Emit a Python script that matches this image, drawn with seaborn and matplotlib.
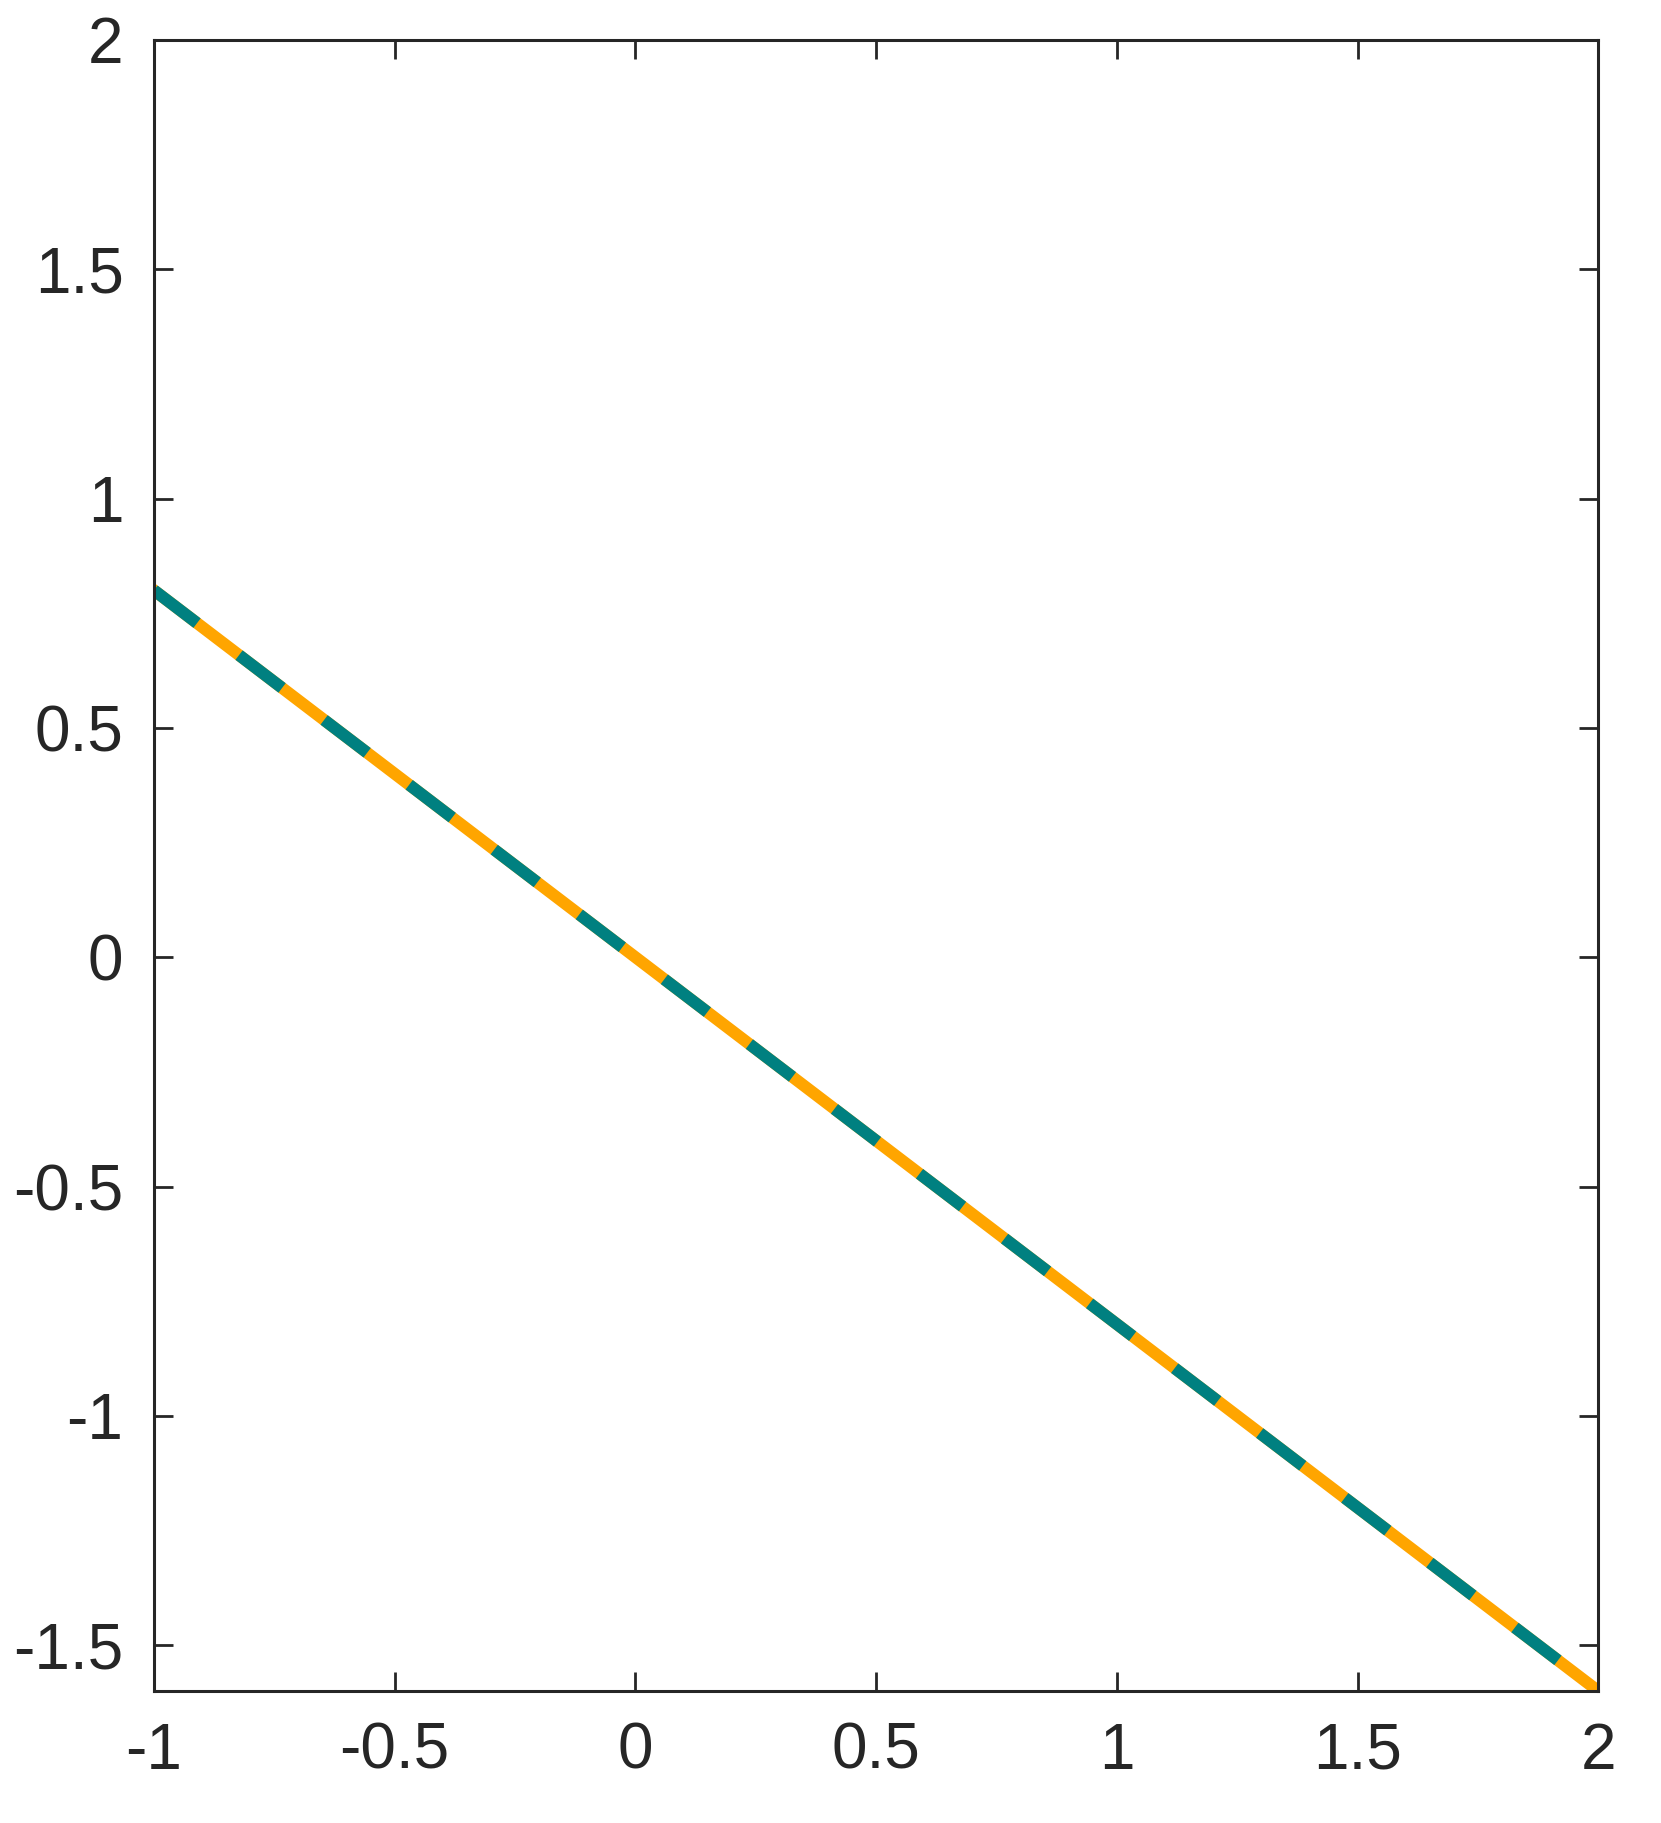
import pandas as pd
import matplotlib
matplotlib.use("Agg")
import matplotlib.pyplot as plt
import seaborn as sns

# line end points
x_vals = [-1.0, 2.0]
y_vals = [0.8, -1.6]
x_ticks = [-1, -0.5, 0, 0.5, 1, 1.5, 2]
y_ticks = [-1.5, -1, -0.5, 0, 0.5, 1, 1.5, 2]
x_labels = ['-1', '-0.5', '0', '0.5', '1', '1.5', '2']
y_labels = ['-1.5', '-1', '-0.5', '0', '0.5', '1', '1.5', '2']

df = pd.DataFrame({'x': x_vals, 'y': y_vals})

sns.set_theme(style="ticks")
plt.rcParams['font.family'] = ['Liberation Sans', 'DejaVu Sans']
plt.rcParams['axes.unicode_minus'] = False
plt.rcParams['lines.scale_dashes'] = False

fig = plt.figure(figsize=(16.61, 18.23), dpi=100)
ax = fig.add_axes([0.0927, 0.0724, 0.8695, 0.9057])

# orange solid underneath, teal dashed on top
sns.lineplot(data=df, x='x', y='y', color='#FFA500', ax=ax)
sns.lineplot(data=df, x='x', y='y', color='#008080', ax=ax)
orange, teal = ax.lines[0], ax.lines[1]
orange.set_linewidth(8.6)
orange.set_solid_capstyle('projecting')
teal.set_linewidth(8.6)
teal.set_dashes([39, 38])
teal.set_dash_capstyle('butt')

ax.set_xlim(-1, 2)
ax.set_ylim(-1.6, 2)
ax.set_xticks(x_ticks)
ax.set_xticklabels(x_labels)
ax.set_yticks(y_ticks)
ax.set_yticklabels(y_labels)
ax.set_xlabel('')
ax.set_ylabel('')

for side in ['top', 'bottom', 'left', 'right']:
    ax.spines[side].set_visible(True)
    ax.spines[side].set_linewidth(2.2)
    ax.spines[side].set_color('#262626')

ax.tick_params(direction='in', top=True, right=True, length=14, width=2,
               color='#262626', labelsize=46, labelcolor='#262626', pad=22)

fig.savefig('out.png', dpi=100)
